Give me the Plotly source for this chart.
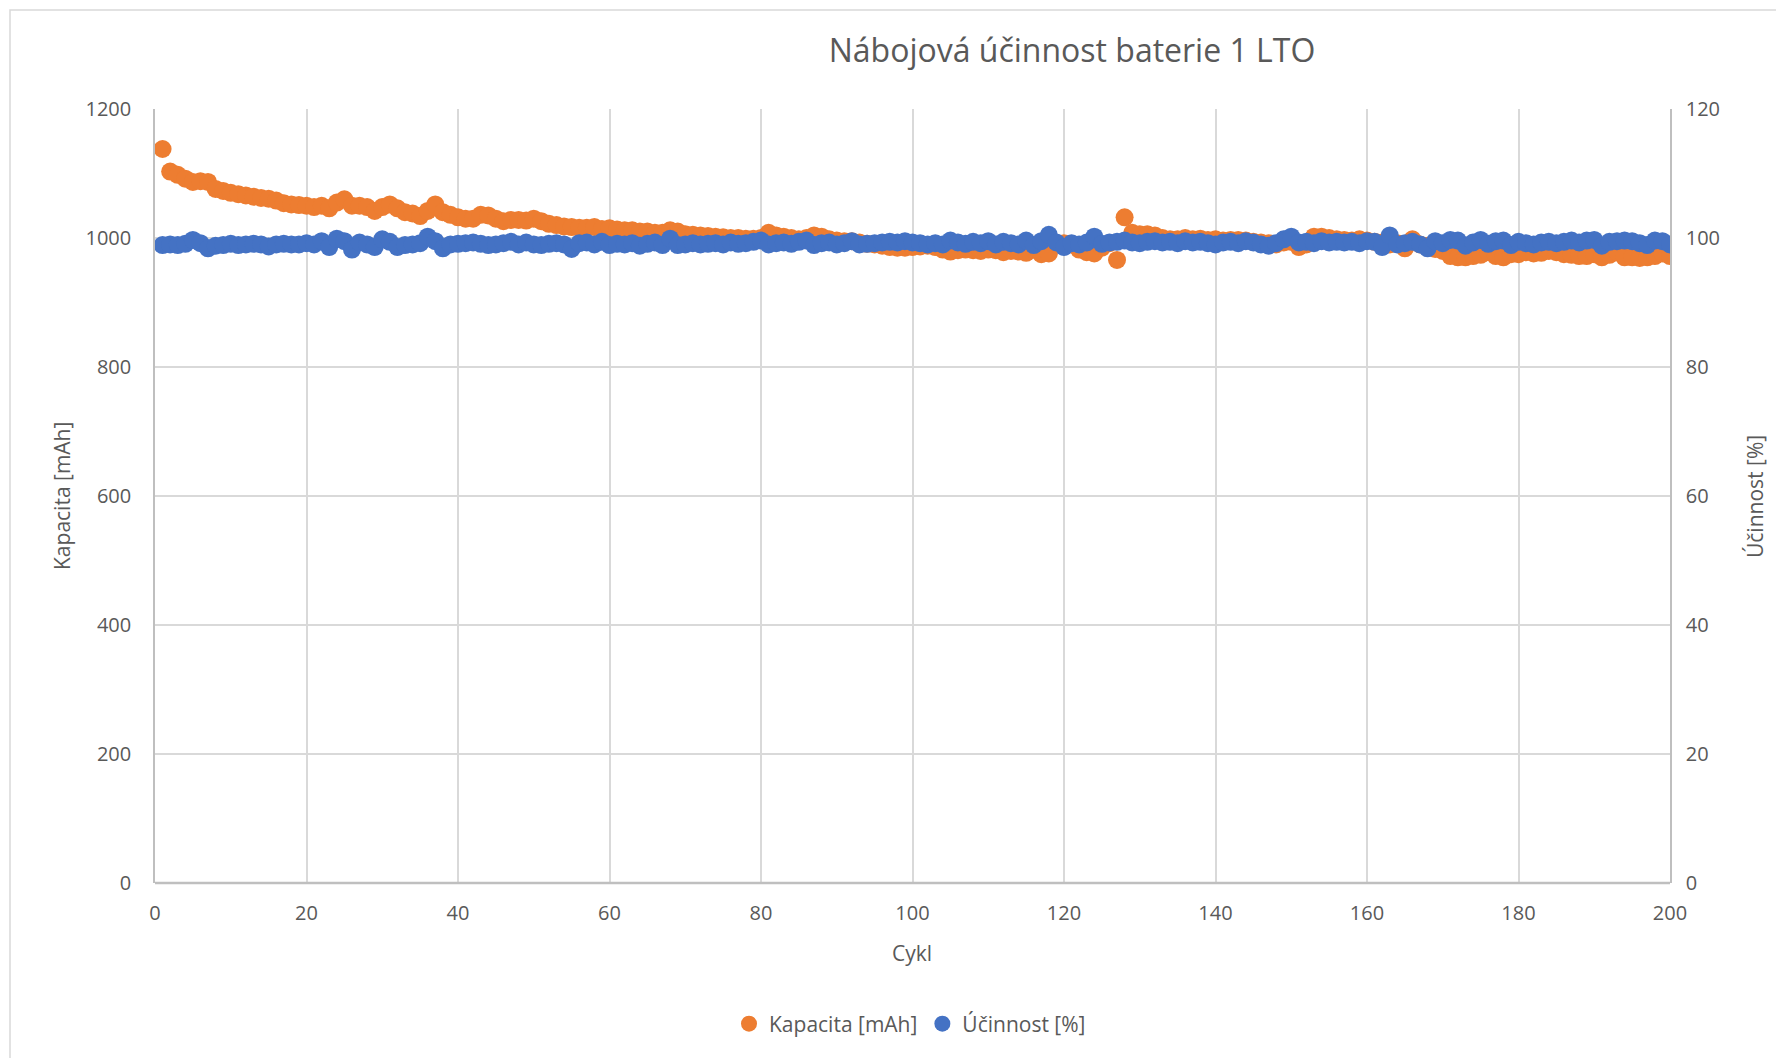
import plotly.graph_objects as go

# === Data ===
cykl = list(range(1, 201))

kapacita = [
    1138, 1103, 1098, 1092, 1087, 1088, 1087, 1076, 1073, 1070,
    1068, 1066, 1064, 1062, 1061, 1058, 1054, 1052, 1051, 1050,
    1048, 1050, 1046, 1055, 1060, 1050, 1050, 1048, 1042, 1048,
    1052, 1046, 1040, 1038, 1034, 1042, 1052, 1040, 1036, 1032,
    1030, 1030, 1036, 1035, 1030, 1026, 1028, 1028, 1027, 1030,
    1026, 1022, 1020, 1018, 1017, 1016, 1016, 1017, 1014, 1015,
    1013, 1012, 1012, 1010, 1010, 1008, 1008, 1012, 1010, 1006,
    1005, 1004, 1003, 1002, 1001, 1000, 1000, 999, 999, 1000,
    1008, 1004, 1002, 1000, 998, 1000, 1004, 1002, 998, 996,
    995, 995, 993, 991, 990, 988, 986, 985, 985, 986,
    987, 988, 986, 982, 979, 981, 982, 981, 980, 982,
    981, 978, 980, 979, 977, 982, 975, 976, 992, 992,
    990, 982, 978, 976, 985, 992, 966, 1032, 1008, 1006,
    1006, 1004, 1000, 998, 998, 1000, 998, 999, 997, 998,
    996, 997, 997, 996, 994, 993, 992, 990, 993, 994,
    986, 990, 1002, 1002, 1000, 998, 997, 996, 998, 996,
    994, 993, 990, 992, 984, 998, 990, 988, 983, 980,
    972, 970, 970, 972, 974, 978, 972, 970, 975, 975,
    978, 976, 977, 980, 978, 975, 974, 972, 972, 975,
    970, 974, 978, 970, 970, 969, 970, 972, 976, 972,
]

ucinnost = [
    98.9, 99.0, 98.9, 99.1, 99.7, 99.2, 98.4, 98.8, 98.9, 99.1,
    98.9, 99.0, 99.1, 99.0, 98.7, 99.0, 99.1, 99.0, 99.0, 99.2,
    99.0, 99.5, 98.6, 99.9, 99.5, 98.2, 99.3, 99.0, 98.6, 99.8,
    99.4, 98.6, 98.9, 99.0, 99.2, 100.2, 99.5, 98.4, 99.0, 99.1,
    99.2, 99.3, 99.1, 98.9, 99.0, 99.2, 99.4, 99.0, 99.3, 99.0,
    98.9, 99.1, 99.2, 99.0, 98.3, 99.2, 99.3, 99.0, 99.4, 98.9,
    99.1, 99.0, 99.2, 98.8, 99.1, 99.3, 98.9, 99.9, 98.9, 99.0,
    99.2, 99.0, 99.1, 99.2, 99.0, 99.3, 99.1, 99.2, 99.4, 99.6,
    99.0, 99.2, 99.3, 99.1, 99.4, 99.6, 98.9, 99.2, 99.3, 99.0,
    99.2, 99.5, 99.0, 99.1, 99.2, 99.3, 99.4, 99.3, 99.5, 99.3,
    99.2, 99.0, 99.2, 99.0, 99.6, 99.3, 99.1, 99.4, 99.2, 99.5,
    99.0, 99.4, 99.2, 99.0, 99.6, 98.9, 99.5, 100.5, 99.3, 98.6,
    99.2, 99.0, 99.3, 100.2, 99.1, 99.3, 99.4, 99.6, 99.3, 99.2,
    99.4, 99.5, 99.3, 99.4, 99.2, 99.5, 99.3, 99.4, 99.2, 99.0,
    99.3, 99.4, 99.2, 99.5, 99.3, 99.0, 98.8, 99.2, 99.8, 100.2,
    99.3, 99.4, 99.2, 99.5, 99.3, 99.4, 99.3, 99.4, 99.2, 99.5,
    99.4, 98.6, 100.4, 99.0, 99.2, 99.4, 99.0, 98.4, 99.5, 99.2,
    99.7, 99.6, 98.8, 99.3, 99.7, 99.1, 99.5, 99.6, 98.9, 99.4,
    99.2, 99.0, 99.3, 99.4, 99.2, 99.4, 99.6, 99.3, 99.6, 99.7,
    98.8, 99.4, 99.5, 99.6, 99.5, 99.2, 98.9, 99.6, 99.5, 99.0,
]

# === Styles ===
ORANGE = '#ED7D31'
BLUE = '#4472C4'
TEXT = '#595959'
GRID = '#D9D9D9'
FONT = 'Open Sans'

# page has an 8px body margin, so work in coordinates shifted by 8
W, H = 1776, 1050
L, R, T, B = 147, 1662, 101, 875
PW, PH = R - L, B - T

def px(x):
    return (x - L) / PW

def py(y):
    return (B - y) / PH

fig = go.Figure()
fig.add_trace(go.Scatter(
    x=cykl, y=kapacita, mode='markers', name='Kapacita [mAh]',
    marker=dict(color=ORANGE, size=18),
))
fig.add_trace(go.Scatter(
    x=cykl, y=ucinnost, mode='markers', name='Účinnost [%]', yaxis='y2',
    marker=dict(color=BLUE, size=18),
))

fig.update_layout(
    width=W, height=H,
    margin=dict(l=L, r=W - R, t=T, b=H - B),
    paper_bgcolor='white', plot_bgcolor='white',
    font=dict(family=FONT, color=TEXT, size=20),
    title=dict(
        text='Nábojová účinnost baterie 1 LTO',
        x=px(1064), xref='paper', xanchor='center',
        y=1 - 43 / H, yref='container', yanchor='middle',
        font=dict(size=32, color=TEXT),
    ),
    xaxis=dict(
        range=[0, 200], dtick=20, tick0=0,
        showgrid=True, gridcolor=GRID, gridwidth=1.5,
        zeroline=False, showline=False,
        ticks='', ticklabelstandoff=16,
    ),
    yaxis=dict(
        range=[0, 1200], dtick=200,
        showgrid=True, gridcolor=GRID, gridwidth=1.5,
        zeroline=False, showline=True, linecolor='#BFBFBF', linewidth=1.5,
        ticks='', ticklabelstandoff=18,
    ),
    yaxis2=dict(
        range=[0, 120], dtick=20, overlaying='y', side='right',
        showgrid=False, zeroline=False,
        showline=True, linecolor='#BFBFBF', linewidth=1.5,
        ticks='', ticklabelstandoff=10,
    ),
    legend=dict(
        orientation='h', x=px(902), xanchor='center',
        y=1 - 1016 / H, yref='container', yanchor='middle',
        font=dict(size=21, color=TEXT), itemwidth=30,
    ),
    showlegend=True,
)

# bottom axis line
fig.add_shape(type='line', xref='paper', yref='paper', x0=0, x1=1, y0=0, y1=0,
              line=dict(color='#BFBFBF', width=2.5))

# chart area border (cropped at right/bottom)
fig.add_shape(type='rect', xref='paper', yref='paper',
              x0=px(2), x1=1.2, y0=-0.5, y1=py(2),
              line=dict(color=GRID, width=1.5), fillcolor='rgba(0,0,0,0)', layer='below')

# axis titles
fig.add_annotation(text='Kapacita [mAh]', textangle=-90, xref='paper', yref='paper',
                   x=px(54), y=0.5, xanchor='center', yanchor='middle',
                   showarrow=False, font=dict(size=21, color=TEXT))
fig.add_annotation(text='Účinnost [%]', textangle=-90, xref='paper', yref='paper',
                   x=px(1747), y=0.5, xanchor='center', yanchor='middle',
                   showarrow=False, font=dict(size=21, color=TEXT))
fig.add_annotation(text='Cykl', xref='paper', yref='paper',
                   x=px(904), y=py(945), xanchor='center', yanchor='middle',
                   showarrow=False, font=dict(size=21, color=TEXT))

fig.write_html('out.html')
